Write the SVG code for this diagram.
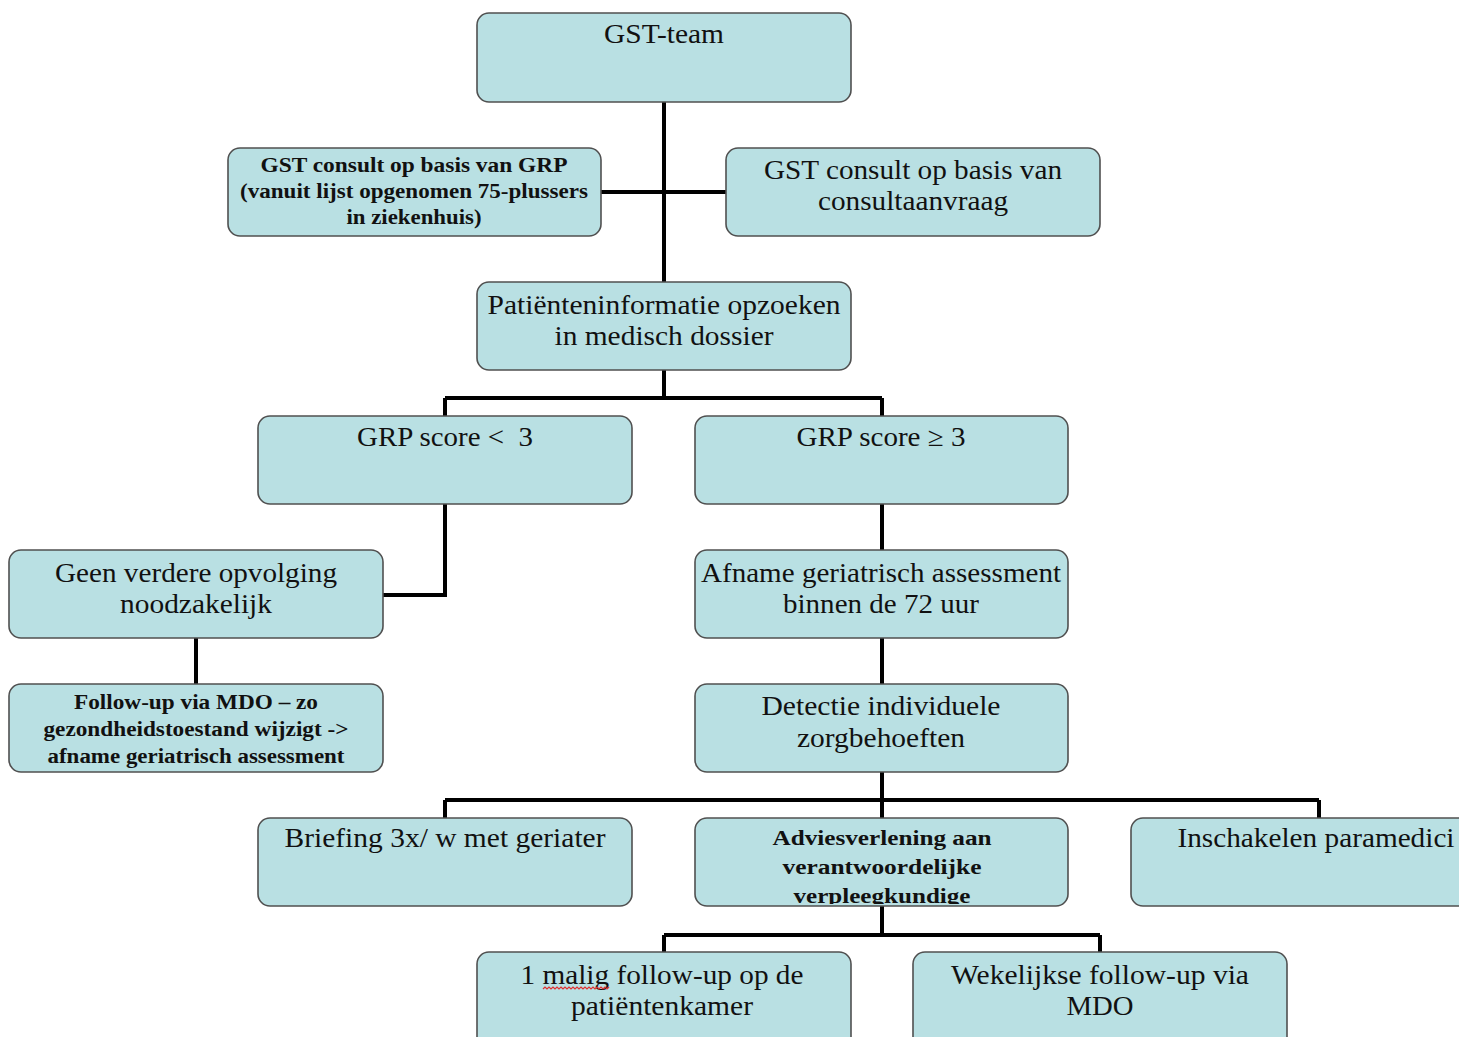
<svg xmlns="http://www.w3.org/2000/svg" width="1459" height="1037" viewBox="0 0 1459 1037">
<style>
.box{fill:#b9e0e3;stroke:#505050;stroke-width:1.6}
.t{font-family:"Liberation Serif","Times New Roman",serif;font-size:27px;fill:#111;text-anchor:middle}
.b{font-family:"Liberation Serif","Times New Roman",serif;font-size:20px;font-weight:bold;fill:#111;text-anchor:middle}
.c{fill:none;stroke:#000;stroke-width:4}
</style>
<defs>
<clipPath id="advClip"><rect x="695" y="818" width="374" height="86"/></clipPath>
</defs>
<rect width="1459" height="1037" fill="#fff"/>
<g id="connectors">
<path class="c" d="M664 102V282M601 192H726"/>
<path class="c" d="M664 370V398M445 398H882M445 398V416M882 398V416"/>
<path class="c" d="M445 504V595H383"/>
<path class="c" d="M196 638V684"/>
<path class="c" d="M882 504V550M882 638V684M882 772V800"/>
<path class="c" d="M445 800H1319M445 800V818M882 800V818M1319 800V818"/>
<path class="c" d="M882 906V935M664 935H1100M664 935V952M1100 935V952"/>
</g>
<g id="n-gstteam"><rect class="box" x="477" y="13" width="374" height="89" rx="12"/>
<text class="t" x="664" y="43" textLength="120" lengthAdjust="spacingAndGlyphs">GST-team</text></g>
<g id="n-grp-consult"><rect class="box" x="228" y="148" width="373" height="88" rx="12"/>
<text class="b" x="414" y="172" textLength="307" lengthAdjust="spacingAndGlyphs">GST consult op basis van GRP</text>
<text class="b" x="414" y="198" textLength="348" lengthAdjust="spacingAndGlyphs">(vanuit lijst opgenomen 75-plussers</text>
<text class="b" x="414" y="224" textLength="135" lengthAdjust="spacingAndGlyphs">in ziekenhuis)</text></g>
<g id="n-consultaanvraag"><rect class="box" x="726" y="148" width="374" height="88" rx="12"/>
<text class="t" x="913" y="179" textLength="298" lengthAdjust="spacingAndGlyphs">GST consult op basis van</text>
<text class="t" x="913" y="210" textLength="190" lengthAdjust="spacingAndGlyphs">consultaanvraag</text></g>
<g id="n-patientinfo"><rect class="box" x="477" y="282" width="374" height="88" rx="12"/>
<text class="t" x="664" y="314" textLength="353" lengthAdjust="spacingAndGlyphs">Patiënteninformatie opzoeken</text>
<text class="t" x="664" y="345" textLength="219" lengthAdjust="spacingAndGlyphs">in medisch dossier</text></g>
<g id="n-grp-lt3"><rect class="box" x="258" y="416" width="374" height="88" rx="12"/>
<text class="t" x="445" y="446" textLength="176" lengthAdjust="spacingAndGlyphs" xml:space="preserve">GRP score &lt;  3</text></g>
<g id="n-grp-ge3"><rect class="box" x="695" y="416" width="373" height="88" rx="12"/>
<text class="t" x="881" y="446" textLength="169" lengthAdjust="spacingAndGlyphs">GRP score ≥ 3</text></g>
<g id="n-geen"><rect class="box" x="9" y="550" width="374" height="88" rx="12"/>
<text class="t" x="196" y="582" textLength="282" lengthAdjust="spacingAndGlyphs">Geen verdere opvolging</text>
<text class="t" x="196" y="613" textLength="152" lengthAdjust="spacingAndGlyphs">noodzakelijk</text></g>
<g id="n-afname"><rect class="box" x="695" y="550" width="373" height="88" rx="12"/>
<text class="t" x="881" y="582" textLength="360" lengthAdjust="spacingAndGlyphs">Afname geriatrisch assessment</text>
<text class="t" x="881" y="613" textLength="196" lengthAdjust="spacingAndGlyphs">binnen de 72 uur</text></g>
<g id="n-followup-mdo"><rect class="box" x="9" y="684" width="374" height="88" rx="12"/>
<text class="b" x="196" y="709" textLength="244" lengthAdjust="spacingAndGlyphs">Follow-up via MDO – zo</text>
<text class="b" x="196" y="736" textLength="305" lengthAdjust="spacingAndGlyphs">gezondheidstoestand wijzigt -&gt;</text>
<text class="b" x="196" y="763" textLength="297" lengthAdjust="spacingAndGlyphs">afname geriatrisch assessment</text></g>
<g id="n-detectie"><rect class="box" x="695" y="684" width="373" height="88" rx="12"/>
<text class="t" x="881" y="715" textLength="239" lengthAdjust="spacingAndGlyphs">Detectie individuele</text>
<text class="t" x="881" y="747" textLength="168" lengthAdjust="spacingAndGlyphs">zorgbehoeften</text></g>
<g id="n-briefing"><rect class="box" x="258" y="818" width="374" height="88" rx="12"/>
<text class="t" x="445" y="847" textLength="321" lengthAdjust="spacingAndGlyphs">Briefing 3x/ w met geriater</text></g>
<g id="n-advies"><rect class="box" x="695" y="818" width="373" height="88" rx="12"/>
<g clip-path="url(#advClip)">
<text class="b" x="882" y="845" textLength="219" lengthAdjust="spacingAndGlyphs">Adviesverlening aan</text>
<text class="b" x="882" y="874" textLength="199" lengthAdjust="spacingAndGlyphs">verantwoordelijke</text>
<text class="b" x="882" y="903" textLength="177" lengthAdjust="spacingAndGlyphs">verpleegkundige</text></g></g>
<g id="n-paramedici"><rect class="box" x="1131" y="818" width="345" height="88" rx="12"/>
<text class="t" x="1316" y="847" textLength="277" lengthAdjust="spacingAndGlyphs">Inschakelen paramedici</text></g>
<g id="n-eenmalig"><rect class="box" x="477" y="952" width="374" height="100" rx="12"/>
<text class="t" x="662" y="984" textLength="283" lengthAdjust="spacingAndGlyphs">1 malig follow-up op de</text>
<text class="t" x="662" y="1015" textLength="182" lengthAdjust="spacingAndGlyphs">patiëntenkamer</text>
<path d="M543 989l2 -2l2 2l2 -2l2 2l2 -2l2 2l2 -2l2 2l2 -2l2 2l2 -2l2 2l2 -2l2 2l2 -2l2 2l2 -2l2 2l2 -2l2 2l2 -2l2 2l2 -2l2 2l2 -2l2 2l2 -2l2 2l2 -2l2 2l2 -2l2 2l2 -2" fill="none" stroke="#e03030" stroke-width="1.2"/></g>
<g id="n-wekelijks"><rect class="box" x="913" y="952" width="374" height="100" rx="12"/>
<text class="t" x="1100" y="984" textLength="298" lengthAdjust="spacingAndGlyphs">Wekelijkse follow-up via</text>
<text class="t" x="1100" y="1015" textLength="67" lengthAdjust="spacingAndGlyphs">MDO</text></g>
</svg>
